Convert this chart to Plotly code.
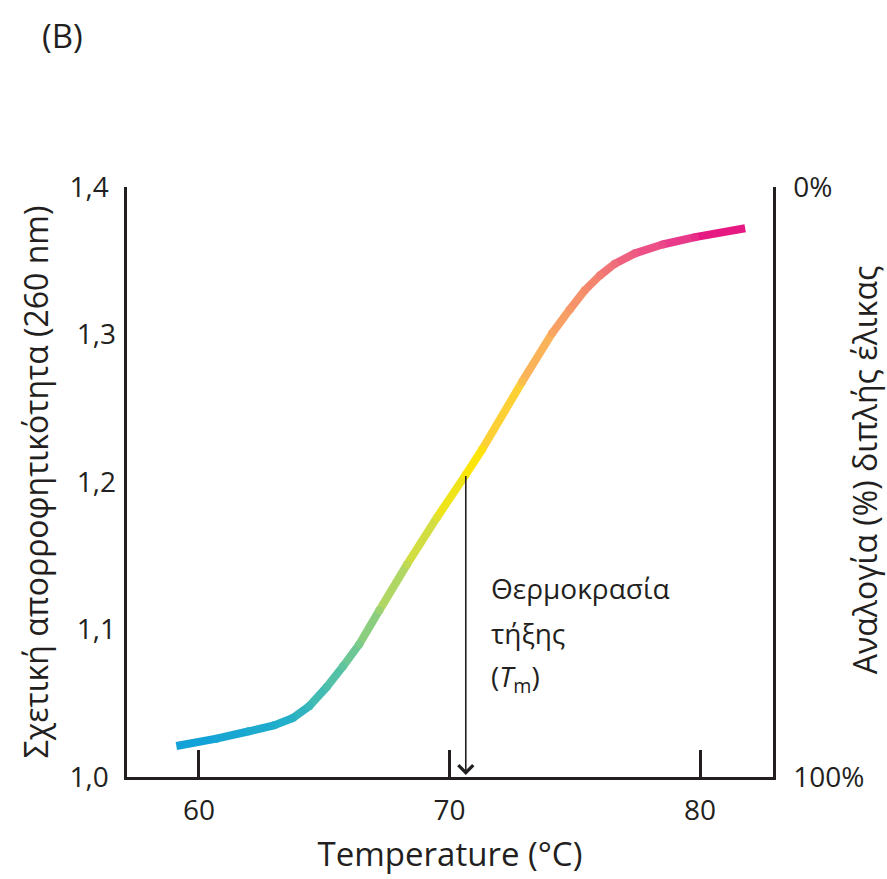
import plotly.graph_objects as go
from plotly.colors import sample_colorscale

# ---- data ----
temperature = [59.1, 60.7, 62.0, 63.0, 63.75, 64.4, 65.1, 65.75, 66.4, 67.2, 68.3, 69.5,
               70.65, 71.3, 72.9, 74.1, 74.8, 75.4, 76.0, 76.6, 77.4, 78.5, 79.8, 81.8]
absorbance = [1.021, 1.026, 1.031, 1.035, 1.040, 1.048, 1.061, 1.075, 1.090, 1.113, 1.144, 1.176,
              1.205, 1.222, 1.268, 1.301, 1.317, 1.330, 1.340, 1.348, 1.355, 1.361, 1.366, 1.372]

x_tick_vals = [60, 70, 80]
y_main_vals = [1.0, 1.4]
y_main_text = ["1,0", "1,4"]
y_mid_vals = [1.1, 1.2, 1.3]
y_mid_text = ["1,1", "1,2", "1,3"]
y_right_vals = [1.0, 1.4]
y_right_text = ["100%", "0%"]

tm_temperature = 70.65
tm_absorbance = 1.205

x_range = [57.13, 82.91]
y_range = [1.0, 1.4]

# colour ramp along temperature
ramp_T = [59.1, 63.5, 65.5, 67.5, 69.5, 70.8, 72.5, 74.0, 75.5, 77.0, 79.0, 81.8]
ramp_c = ["#0f9fdb", "#22afc9", "#55c2a5", "#a9d56a", "#e3e12f", "#fde800",
          "#fdc845", "#f9a862", "#f48a6c", "#ee6280", "#e93c8c", "#e4067e"]

INK = "#231f20"
FONT = "Open Sans"

tmin, tmax = ramp_T[0], ramp_T[-1]
colorscale = [[(t - tmin) / (tmax - tmin), c] for t, c in zip(ramp_T, ramp_c)]


def col(t):
    v = min(max((t - tmin) / (tmax - tmin), 0), 1)
    return sample_colorscale(colorscale, [v])[0]


fig = go.Figure()

# gradient curve, drawn segment by segment
for i in range(len(temperature) - 1):
    mid = 0.5 * (temperature[i] + temperature[i + 1])
    fig.add_trace(go.Scatter(
        x=[temperature[i], temperature[i + 1]],
        y=[absorbance[i], absorbance[i + 1]],
        mode="lines", line=dict(color=col(mid), width=8),
        hoverinfo="skip", showlegend=False))

# round joints
fig.add_trace(go.Scatter(
    x=temperature[1:-1], y=absorbance[1:-1], mode="markers",
    marker=dict(size=8, color=[col(t) for t in temperature[1:-1]], line=dict(width=0)),
    hoverinfo="skip", showlegend=False))

# dummy traces for the extra axes
fig.add_trace(go.Scatter(x=[None], y=[None], yaxis="y2", showlegend=False, hoverinfo="skip"))
fig.add_trace(go.Scatter(x=[None], y=[None], yaxis="y3", showlegend=False, hoverinfo="skip"))

tickfont = dict(family=FONT, size=28, color=INK)

fig.update_layout(
    width=887, height=879,
    margin=dict(l=127, r=114, t=187, b=98),
    paper_bgcolor="white", plot_bgcolor="white",
    font=dict(family=FONT, color=INK),
    xaxis=dict(
        range=x_range, tickvals=x_tick_vals, ticks="inside", ticklen=27, tickwidth=2.5,
        tickcolor=INK, showline=True, linewidth=2.5, linecolor=INK, showgrid=False,
        zeroline=False, tickfont=tickfont, ticklabelstandoff=7,
        title=dict(text="Temperature (°C)", font=dict(family=FONT, size=33, color=INK), standoff=16),
    ),
    yaxis=dict(
        range=y_range, tickvals=y_main_vals, ticktext=y_main_text, ticks="inside", ticklen=27,
        tickwidth=2.5, tickcolor=INK, showline=True, linewidth=2.5, linecolor=INK,
        showgrid=False, zeroline=False, tickfont=tickfont, ticklabelstandoff=10,
        title=dict(text="Σχετική απορροφητικότητα (260 nm)", font=dict(family=FONT, size=32, color=INK), standoff=12),
    ),
    yaxis3=dict(
        range=y_range, overlaying="y", side="left", tickvals=y_mid_vals, ticktext=y_mid_text,
        ticks="", showline=False, showgrid=False, zeroline=False, tickfont=tickfont,
        ticklabelstandoff=10,
    ),
    yaxis2=dict(
        range=y_range, overlaying="y", side="right", tickvals=y_right_vals, ticktext=y_right_text,
        ticks="inside", ticklen=27, tickwidth=2.5, tickcolor=INK, showline=True, linewidth=2.5,
        linecolor=INK, showgrid=False, zeroline=False, tickfont=tickfont, ticklabelstandoff=12,
    ),
    showlegend=False,
)

# Tm arrow
fig.add_annotation(x=tm_temperature, y=y_range[0], ax=tm_temperature, ay=tm_absorbance,
                   xref="x", yref="y", axref="x", ayref="y", text="", showarrow=True,
                   arrowhead=4, arrowsize=1.8, arrowwidth=1.6, arrowcolor=INK, standoff=2)

label_lines = ["Θερμοκρασία", "τήξης", "(<i>T</i><sub>m</sub>)"]
label_y = [1.1279, 1.0976, 1.0673]
for txt, yy in zip(label_lines, label_y):
    fig.add_annotation(x=71.58, y=yy, xref="x", yref="y", text=txt, showarrow=False,
                       xanchor="left", yanchor="middle", align="left",
                       font=dict(family=FONT, size=28, color=INK))

fig.add_annotation(x=-0.1346, y=1.256, xref="paper", yref="paper", text="(B)", showarrow=False,
                   xanchor="left", yanchor="middle", font=dict(family=FONT, size=33, color=INK))

fig.add_annotation(x=1.1409, y=0.52, xref="paper", yref="paper", text="Αναλογία (%) διπλής έλικας",
                   showarrow=False, textangle=-90, xanchor="center", yanchor="middle",
                   font=dict(family=FONT, size=32, color=INK))

fig.write_html("out.html")
